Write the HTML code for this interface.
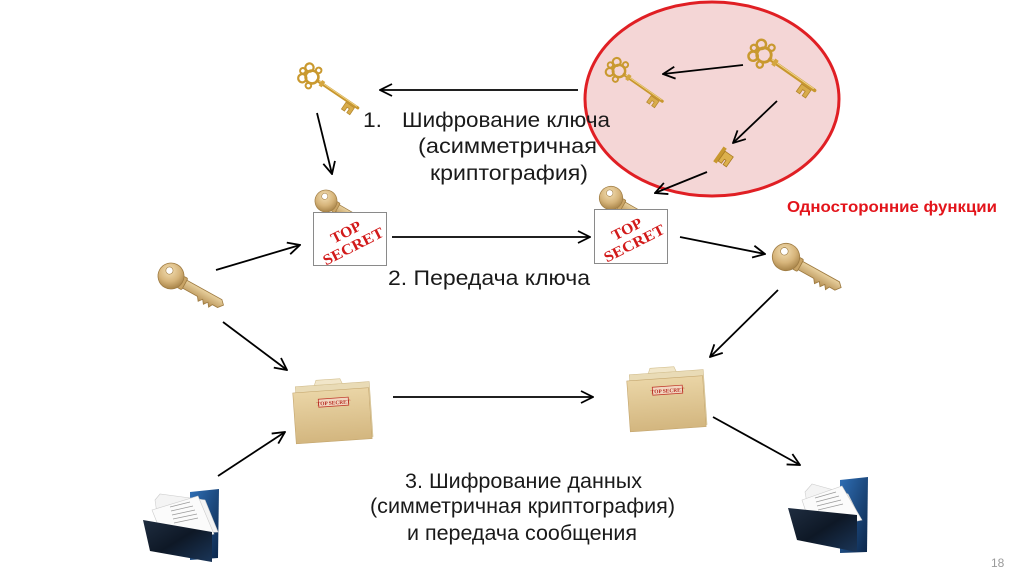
<!DOCTYPE html>
<html><head><meta charset="utf-8"><style>
html,body{margin:0;padding:0;background:#fff;}
svg{display:block;}
text{font-family:"Liberation Sans",sans-serif;}
</style></head><body>
<svg width="1024" height="574" viewBox="0 0 1024 574" xmlns="http://www.w3.org/2000/svg">
<defs>
<marker id="ah" viewBox="0 0 14 14" refX="13" refY="7" markerWidth="14" markerHeight="14" orient="auto" markerUnits="userSpaceOnUse">
<path d="M1,1 L13,7 L1,13" fill="none" stroke="#000" stroke-width="1.8"/>
</marker>
<radialGradient id="brass" cx="0.35" cy="0.35" r="0.7"><stop offset="0" stop-color="#f3dfb4"/><stop offset="0.6" stop-color="#d6b47a"/><stop offset="1" stop-color="#a9854a"/></radialGradient>
<linearGradient id="brassS" x1="0" y1="0" x2="0" y2="1"><stop offset="0" stop-color="#ead2a0"/><stop offset="1" stop-color="#b48e52"/></linearGradient>
<linearGradient id="manila" x1="0" y1="0" x2="0" y2="1"><stop offset="0" stop-color="#ead5a6"/><stop offset="1" stop-color="#d3b67f"/></linearGradient>
<linearGradient id="blueback" x1="0" y1="0" x2="1" y2="1"><stop offset="0" stop-color="#2f6fb6"/><stop offset="1" stop-color="#0b2548"/></linearGradient>
<linearGradient id="navy" x1="0" y1="0" x2="1" y2="1"><stop offset="0" stop-color="#1f2d40"/><stop offset="0.5" stop-color="#0e1826"/><stop offset="1" stop-color="#1a3558"/></linearGradient>

<g id="okey" fill="none" stroke="#c9992f" stroke-linecap="round">
<circle cx="0" cy="0" r="7" stroke-width="2.8"/>
<circle cx="-8" cy="-7" r="4.5" stroke-width="2.4"/>
<circle cx="-8" cy="7" r="4.5" stroke-width="2.4"/>
<circle cx="-12" cy="0" r="3" stroke-width="2.2"/>
<circle cx="2" cy="-10" r="3" stroke-width="2.2"/>
<circle cx="2" cy="10" r="3" stroke-width="2.2"/>
<line x1="7" y1="0" x2="60" y2="0" stroke-width="3.4" stroke="#c8972e"/>
<line x1="9" y1="-0.8" x2="58" y2="-0.8" stroke-width="1" stroke="#f0d488"/>
<rect x="11" y="-3.5" width="4" height="7" fill="#d4a640" stroke="none"/>
<path d="M46,2 L46,11 L50,11 L50,6 L53,6 L53,11 L57,11 L57,2 Z" fill="#d8ac4a" stroke="#b3862e" stroke-width="0.8"/>
</g>

<g id="skey">
<path d="M10,-4 L56,-4 L60,0 L56,5 L50,5 L48,9 L45,5 L42,9 L39,5 L36,9 L33,5 L12,5 Z" fill="url(#brassS)" stroke="#9d7a40" stroke-width="0.8"/>
<rect x="11" y="-6" width="5" height="13" rx="1.5" fill="#c9a466" stroke="#9d7a40" stroke-width="0.8"/>
<circle cx="0" cy="0" r="13" fill="url(#brass)" stroke="#a07d44" stroke-width="0.8"/>
<circle cx="-4" cy="-4" r="3.6" fill="#fff" stroke="#a07d44" stroke-width="0.6"/>
</g>

<g id="manf">
<rect x="3" y="5" width="74" height="55" fill="#e9dbb6" stroke="#d0bb8a" stroke-width="0.6"/>
<path d="M22,5 L24,0 L48,0 L50,5 Z" fill="#f1e6c9" stroke="#d4c191" stroke-width="0.6"/>
<rect x="0" y="11" width="76" height="51" fill="url(#manila)" stroke="#c4a66e" stroke-width="0.6"/>
<rect x="25" y="19" width="30" height="8" fill="#f2d6c0" stroke="#c0392b" stroke-width="0.8"/>
<text x="40" y="25.3" font-size="5.4" font-weight="bold" fill="#b52a20" text-anchor="middle" style="font-family:'Liberation Serif',serif">TOP SECRET</text>
</g>
</defs>

<!-- Red ellipse -->
<ellipse cx="712" cy="99" rx="127" ry="97" fill="#f4d6d6" stroke="#e01f24" stroke-width="3"/>

<!-- ornate keys -->
<use href="#okey" transform="translate(312,77) rotate(34) scale(0.92)"/>
<use href="#okey" transform="translate(619,71) rotate(35) scale(0.88)"/>
<use href="#okey" transform="translate(764,55) rotate(35) scale(1.03)"/>
<!-- broken bit -->
<g transform="translate(720,155) rotate(35)">
<rect x="-2" y="-9" width="4" height="18" fill="#c8982f"/>
<path d="M2,-6 L12,-6 L12,6 L8,6 L8,1 L6,1 L6,6 L2,6 Z" fill="#dcb04c" stroke="#a97a22" stroke-width="0.8"/>
</g>

<!-- simple keys -->
<use href="#skey" transform="translate(171,276) rotate(29)"/>
<use href="#skey" transform="translate(786,257) rotate(29) scale(1.05)"/>
<use href="#skey" transform="translate(326,201) rotate(30) scale(0.85)"/>
<use href="#skey" transform="translate(611,198) rotate(30) scale(0.9)"/>

<!-- Top secret boxes -->
<g>
<rect x="313.5" y="212.5" width="73" height="53" fill="#fff" stroke="#8a8a8a" stroke-width="1"/>
<g transform="translate(350,240) rotate(-27)" fill="#d21a1a" font-weight="bold">
<text x="0" y="-4" font-size="15" text-anchor="middle" textLength="32" lengthAdjust="spacingAndGlyphs" style="font-family:'Liberation Serif',serif">TOP</text>
<text x="0" y="12" font-size="15" text-anchor="middle" textLength="66" lengthAdjust="spacingAndGlyphs" style="font-family:'Liberation Serif',serif">SECRET</text>
</g>
</g>
<g>
<rect x="594.5" y="209.5" width="73" height="54" fill="#fff" stroke="#8a8a8a" stroke-width="1"/>
<g transform="translate(631,237) rotate(-27)" fill="#d21a1a" font-weight="bold">
<text x="0" y="-4" font-size="15" text-anchor="middle" textLength="32" lengthAdjust="spacingAndGlyphs" style="font-family:'Liberation Serif',serif">TOP</text>
<text x="0" y="12" font-size="15" text-anchor="middle" textLength="66" lengthAdjust="spacingAndGlyphs" style="font-family:'Liberation Serif',serif">SECRET</text>
</g>
</g>

<!-- manila folders -->
<use href="#manf" transform="translate(292,382) rotate(-4)"/>
<use href="#manf" transform="translate(626,370) rotate(-4)"/>

<!-- blue folders -->
<g>
<path d="M190,492 L219,489 L218,558 L190,560 Z" fill="url(#blueback)"/>
<path d="M155,500 L160,494 L205,500 L218,532 L160,535 Z" fill="#f4f4f4" stroke="#cfcfcf" stroke-width="0.6"/>
<path d="M152,510 L198,496 L214,534 L166,545 Z" fill="#fbfbfb" stroke="#cccccc" stroke-width="0.6"/>
<g stroke="#9a9a9a" stroke-width="0.7"><line x1="170" y1="507" x2="190" y2="502"/><line x1="171" y1="511" x2="193" y2="506"/><line x1="172" y1="515" x2="195" y2="510"/><line x1="173" y1="519" x2="197" y2="514"/><line x1="174" y1="523" x2="198" y2="518"/></g>
<path d="M143,520 L212,532 L212,562 L150,551 Z" fill="url(#navy)"/>
</g>
<g>
<path d="M840,480 L868,477 L867,552 L840,553 Z" fill="url(#blueback)"/>
<path d="M805,492 L812,484 L848,494 L860,518 L810,520 Z" fill="#f4f4f4" stroke="#cfcfcf" stroke-width="0.6"/>
<path d="M802,500 L842,486 L862,520 L812,530 Z" fill="#fbfbfb" stroke="#cccccc" stroke-width="0.6"/>
<g stroke="#9a9a9a" stroke-width="0.7"><line x1="815" y1="498" x2="836" y2="492"/><line x1="816" y1="502" x2="839" y2="496"/><line x1="817" y1="506" x2="841" y2="500"/><line x1="818" y1="510" x2="843" y2="504"/></g>
<path d="M788,508 L857,515 L857,552 L797,540 Z" fill="url(#navy)"/>
</g>

<!-- arrows -->
<g stroke="#000" stroke-width="1.8" fill="none" marker-end="url(#ah)">
<line x1="578" y1="90" x2="380" y2="90"/>
<line x1="317" y1="113" x2="332" y2="174"/>
<line x1="743" y1="65" x2="663" y2="74"/>
<line x1="777" y1="101" x2="733" y2="143"/>
<line x1="707" y1="172" x2="655" y2="193"/>
<line x1="392" y1="237" x2="590" y2="237"/>
<line x1="216" y1="270" x2="300" y2="245"/>
<line x1="680" y1="237" x2="765" y2="254"/>
<line x1="223" y1="322" x2="287" y2="370"/>
<line x1="218" y1="476" x2="285" y2="432"/>
<line x1="393" y1="397" x2="593" y2="397"/>
<line x1="778" y1="290" x2="710" y2="357"/>
<line x1="713" y1="417" x2="800" y2="465"/>
</g>

<!-- texts -->
<g fill="#1a1a1a" font-size="21">
<text x="363" y="127" textLength="19" lengthAdjust="spacingAndGlyphs">1.</text>
<text x="402" y="127" textLength="208" lengthAdjust="spacingAndGlyphs">Шифрование ключа</text>
<text x="418" y="153" textLength="179" lengthAdjust="spacingAndGlyphs">(асимметричная</text>
<text x="430" y="180" textLength="158" lengthAdjust="spacingAndGlyphs">криптография)</text>
<text x="388" y="285" textLength="202" lengthAdjust="spacingAndGlyphs">2. Передача ключа</text>
<text x="405" y="488" textLength="237" lengthAdjust="spacingAndGlyphs">3. Шифрование данных</text>
<text x="370" y="513" textLength="305" lengthAdjust="spacingAndGlyphs">(симметричная криптография)</text>
<text x="407" y="540" textLength="230" lengthAdjust="spacingAndGlyphs">и передача сообщения</text>
</g>
<text x="787" y="212" font-size="16" font-weight="bold" fill="#e3141b" textLength="210" lengthAdjust="spacingAndGlyphs">Односторонние функции</text>
<text x="991" y="567" font-size="12" fill="#9a9a9a">18</text>
</svg>
</body></html>
